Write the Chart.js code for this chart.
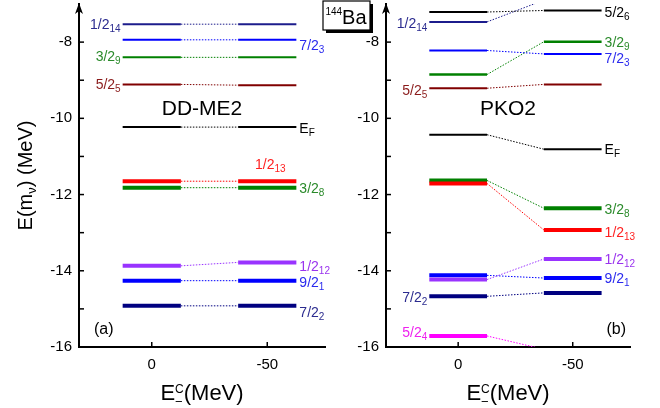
<!DOCTYPE html>
<html>
<head>
<meta charset="utf-8">
<script src="https://cdn.jsdelivr.net/npm/chart.js@4.4.0/dist/chart.umd.min.js"></script>
<style>
body { margin: 0; background: #fff; }
#wrap { position: relative; width: 660px; height: 408px; background: #fff; }
#wrap canvas { position: absolute; left: 0; top: 0; }
</style>
</head>
<body>
<div id="wrap">
  <canvas id="chartA" width="660" height="408"></canvas>
  <canvas id="chartB" width="660" height="408"></canvas>
</div>
<script>
// single-particle levels, name "j_index" -> j with subscript
var levelNames = ['5/2_6', '1/2_14', '7/2_3', '3/2_9', '5/2_5', 'E_F', '1/2_13', '3/2_8', '1/2_12', '9/2_1', '7/2_2', '5/2_4'];
var columns = [0, -50];   // E_-^C (MeV)

// DD-ME2 energies (MeV), left column = 0, right column = -50
var ddme2Left  = [null, -7.53, -7.94, -8.40, -9.11, -10.23, -11.65, -11.82, -13.87, -14.26, -14.92, null];
var ddme2Right = [null, -7.53, -7.94, -8.40, -9.13, -10.23, -11.65, -11.82, -13.78, -14.26, -14.92, null];

// PKO2 energies (MeV)
var pko2Left  = [-7.21, -7.47, -8.22, -8.85, -9.21, -10.43, -11.71, -11.63, -14.23, -14.12, -14.67, -15.71];
var pko2Right = [-7.17, -6.90, -8.31, -7.99, -9.11, -10.81, -12.93, -12.36, -13.69, -14.19, -14.58, -16.06];

var yTicks = [-16, -15, -14, -13, -12, -11, -10, -9, -8];
var xTicks = [0, -50];

// styles
var levelColors = ['#000000', '#1c1c8c', '#0000ff', '#008000', '#800000', '#000000', '#ff0000', '#008000', '#9933ff', '#0000ff', '#000080', '#ff00ff'];
var labelColors = ['#000000', '#2b2b8f', '#2a2aee', '#2a8a2a', '#8a1a1a', '#000000', '#ff2020', '#2a8a2a', '#9a33ee', '#2a2aee', '#2b2b8f', '#ee22ee'];
var ddme2Widths = [0, 2, 2, 2, 2, 2, 4, 4, 4, 4, 4, 0];
var pko2Widths  = [2, 2, 2, 2.5, 2, 2, 4, 4, 4, 4, 4, 4];

// label placement
var ddme2LabelSide = [null, 'left', 'right', 'left', 'left', 'right', 'above', 'right', 'right', 'right', 'right', null];
var ddme2LabelDy   = [0, 0, 5, -1, 0, 1, -17, 0, 4, 1.5, 6, 0];
var pko2LabelSide  = ['right', 'left', 'right', 'right', 'left', 'right', 'right', 'right', 'right', 'right', 'left', 'left'];
var pko2LabelDy    = [2, 1, 4, 0, 2, 0, 2, 1, 0, 0, 1, -4];

var FONT = '"Liberation Sans", Arial, sans-serif';
var halfWidth = 12.6;

function buildDatasets(left, right, widths) {
    var sets = [];
    for (var i = 0; i < levelNames.length; i++) {
        if (left[i] === null) continue;
        var common = {
            borderColor: levelColors[i],
            pointRadius: 0,
            tension: 0,
            fill: false,
            clip: 0,
            borderCapStyle: 'butt'
        };
        sets.push(Object.assign({
            data: [{x: columns[0] + halfWidth, y: left[i]}, {x: columns[0] - halfWidth, y: left[i]}],
            borderWidth: widths[i], order: 0
        }, common));
        sets.push(Object.assign({
            data: [{x: columns[1] + halfWidth, y: right[i]}, {x: columns[1] - halfWidth, y: right[i]}],
            borderWidth: widths[i], order: 0
        }, common));
        sets.push(Object.assign({
            data: [{x: columns[0] - halfWidth, y: left[i]}, {x: columns[1] + halfWidth, y: right[i]}],
            borderWidth: 1, borderDash: [1.5, 1.5], order: 1
        }, common));
    }
    return sets;
}

function drawRich(ctx, parts, x, y, align, color) {
    var widths = [];
    var total = 0;
    parts.forEach(function(p) {
        ctx.font = p[1] + 'px ' + FONT;
        var w = ctx.measureText(p[0]).width;
        widths.push(w);
        if (p[3] !== false) total += w;
    });
    var cx = x;
    if (align === 'right') cx = x - total;
    if (align === 'center') cx = x - total / 2;
    ctx.fillStyle = color;
    ctx.textAlign = 'left';
    ctx.textBaseline = 'alphabetic';
    parts.forEach(function(p, k) {
        ctx.font = p[1] + 'px ' + FONT;
        ctx.fillText(p[0], cx, y + p[2]);
        if (p[3] !== false) cx += widths[k];
    });
}

function levelParts(name) {
    var bits = name.split('_');
    return [[bits[0], 14, 0], [bits[1], 10, 3]];
}

function makePanelPlugin(panel) {
    return {
        id: 'panelDecor',
        afterDraw: function(chart) {
            var ctx = chart.ctx;
            var xs = chart.scales.x, ys = chart.scales.y;
            var area = chart.chartArea;
            ctx.save();

            // inward ticks
            ctx.strokeStyle = '#000';
            ctx.lineWidth = 1.5;
            yTicks.forEach(function(v) {
                var py = ys.getPixelForValue(v);
                ctx.beginPath();
                ctx.moveTo(area.left, py);
                ctx.lineTo(area.left + 5, py);
                ctx.stroke();
            });
            xTicks.forEach(function(v) {
                var px = xs.getPixelForValue(v);
                ctx.beginPath();
                ctx.moveTo(px, area.bottom);
                ctx.lineTo(px, area.bottom - 5);
                ctx.stroke();
            });

            // arrow on y axis
            var ax = area.left;
            ctx.fillStyle = '#000';
            ctx.beginPath();
            ctx.moveTo(ax, area.top - 1);
            ctx.lineTo(ax - 4, area.top + 10);
            ctx.lineTo(ax, area.top + 7);
            ctx.lineTo(ax + 4, area.top + 10);
            ctx.closePath();
            ctx.fill();

            // level labels
            for (var i = 0; i < levelNames.length; i++) {
                var side = panel.side[i];
                if (!side) continue;
                var parts = levelParts(levelNames[i]);
                var yl, x, align;
                if (side === 'left') {
                    yl = ys.getPixelForValue(panel.left[i]);
                    x = xs.getPixelForValue(columns[0] + halfWidth) - 2;
                    align = 'right';
                } else if (side === 'right') {
                    yl = ys.getPixelForValue(panel.right[i]);
                    x = xs.getPixelForValue(columns[1] - halfWidth) + 3;
                    align = 'left';
                } else {
                    yl = ys.getPixelForValue(panel.right[i]);
                    x = xs.getPixelForValue(columns[1]) + 3;
                    align = 'center';
                }
                drawRich(ctx, parts, x, yl + panel.dy[i] + 5, align, labelColors[i]);
            }

            // model name and panel tag
            var mid = (area.left + area.right) / 2;
            drawRich(ctx, [[panel.title, 21, 0]], mid, 115, 'center', '#000');
            if (panel.tag === '(a)') {
                drawRich(ctx, [[panel.tag, 16, 0]], area.left + 15, 334, 'left', '#000');
            } else {
                drawRich(ctx, [[panel.tag, 16, 0]], area.right - 4, 334, 'right', '#000');
            }

            // x title
            drawRich(ctx, [['E', 22, 0], ['\u2212', 13, 5.5, false], ['C', 12, -7], ['(MeV)', 22, 0]],
                mid, 400, 'center', '#000');

            // y title
            if (panel.yTitle) {
                ctx.save();
                ctx.translate(25, (area.top + area.bottom) / 2);
                ctx.rotate(-Math.PI / 2);
                drawRich(ctx, [['E(m', 20, 0], ['\u03bd', 13, 4], [') (MeV)', 20, 0]], 0, 7, 'center', '#000');
                ctx.restore();
            }

            // nucleus box
            if (panel.box) {
                ctx.fillStyle = '#000';
                ctx.fillRect(326, 4, 47, 29);
                ctx.fillStyle = '#fff';
                ctx.fillRect(323, 1, 47, 29);
                ctx.strokeStyle = '#000';
                ctx.lineWidth = 1.2;
                ctx.strokeRect(323, 1, 47, 29);
                drawRich(ctx, [['144', 10, -9], ['Ba', 20, 0]], 346, 24, 'center', '#000');
            }
            ctx.restore();
        }
    };
}

function makeChart(canvasId, panel, padLeft, padRight, yWidth) {
    return new Chart(document.getElementById(canvasId), {
        type: 'line',
        data: { datasets: buildDatasets(panel.left, panel.right, panel.widths) },
        options: {
            responsive: false,
            animation: false,
            devicePixelRatio: 1,
            layout: { padding: { left: padLeft, right: padRight, top: 4, bottom: 0 } },
            plugins: { legend: { display: false }, tooltip: { enabled: false } },
            scales: {
                x: {
                    type: 'linear',
                    reverse: true,
                    min: -75,
                    max: 31.5,
                    grid: { display: false, drawTicks: false },
                    border: { display: true, color: '#000', width: 2 },
                    afterBuildTicks: function(scale) {
                        scale.ticks = xTicks.map(function(v) { return {value: v}; });
                    },
                    afterFit: function(scale) {
                        scale.height = 61;
                        scale.paddingLeft = 0;
                        scale.paddingRight = 0;
                    },
                    ticks: {
                        autoSkip: false,
                        maxRotation: 0,
                        padding: 9,
                        color: '#000',
                        font: { family: FONT, size: 15 },
                        callback: function(v) { return String(v); }
                    }
                },
                y: {
                    type: 'linear',
                    min: -16,
                    max: -7,
                    grid: { display: false, drawTicks: false },
                    border: { display: true, color: '#000', width: 2 },
                    afterBuildTicks: function(scale) {
                        scale.ticks = yTicks.map(function(v) { return {value: v}; });
                    },
                    afterFit: function(scale) {
                        scale.width = yWidth;
                        scale.paddingTop = 0;
                        scale.paddingBottom = 0;
                    },
                    ticks: {
                        autoSkip: false,
                        padding: 7,
                        color: '#000',
                        font: { family: FONT, size: 15 },
                        callback: function(v) { return v % 2 === 0 ? String(v) : ''; }
                    }
                }
            }
        },
        plugins: [makePanelPlugin(panel)]
    });
}

makeChart('chartA', {
    title: 'DD-ME2', tag: '(a)', left: ddme2Left, right: ddme2Right, widths: ddme2Widths,
    side: ddme2LabelSide, dy: ddme2LabelDy, yTitle: true, box: false
}, 0, 335, 79);

makeChart('chartB', {
    title: 'PKO2', tag: '(b)', left: pko2Left, right: pko2Right, widths: pko2Widths,
    side: pko2LabelSide, dy: pko2LabelDy, yTitle: false, box: true
}, 330, 30, 56);
</script>
</body>
</html>
